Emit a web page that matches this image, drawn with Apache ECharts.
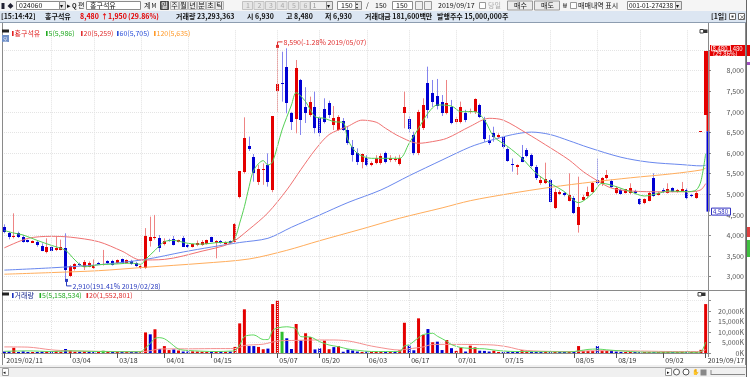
<!DOCTYPE html>
<html>
<head>
<meta charset="utf-8">
<script src="https://cdn.jsdelivr.net/npm/echarts@6/dist/echarts.min.js"></script>
<style>
  html, body { margin: 0; padding: 0; background: #fff; }
  #chart { width: 750px; height: 377px; }
</style>
</head>
<body>
<div id="chart"></div>
<script>
// 일봉 150개 (2019/02/11 ~ 2019/09/17)
const dates = ('2019/02/11 2019/02/12 2019/02/13 2019/02/14 2019/02/15 2019/02/18 2019/02/19 2019/02/20 2019/02/21 2019/02/22 ' +
  '2019/02/25 2019/02/26 2019/02/27 2019/02/28 2019/03/04 2019/03/05 2019/03/06 2019/03/07 2019/03/08 2019/03/11 ' +
  '2019/03/12 2019/03/13 2019/03/14 2019/03/15 2019/03/18 2019/03/19 2019/03/20 2019/03/21 2019/03/22 2019/03/25 ' +
  '2019/03/26 2019/03/27 2019/03/28 2019/03/29 2019/04/01 2019/04/02 2019/04/03 2019/04/04 2019/04/05 2019/04/08 ' +
  '2019/04/09 2019/04/10 2019/04/11 2019/04/12 2019/04/15 2019/04/16 2019/04/17 2019/04/18 2019/04/19 2019/04/22 ' +
  '2019/04/23 2019/04/24 2019/04/25 2019/04/26 2019/04/29 2019/04/30 2019/05/02 2019/05/03 2019/05/07 2019/05/08 ' +
  '2019/05/09 2019/05/10 2019/05/13 2019/05/14 2019/05/15 2019/05/16 2019/05/17 2019/05/20 2019/05/21 2019/05/22 ' +
  '2019/05/23 2019/05/24 2019/05/27 2019/05/28 2019/05/29 2019/05/30 2019/05/31 2019/06/03 2019/06/04 2019/06/05 ' +
  '2019/06/07 2019/06/10 2019/06/11 2019/06/12 2019/06/13 2019/06/14 2019/06/17 2019/06/18 2019/06/19 2019/06/20 ' +
  '2019/06/21 2019/06/24 2019/06/25 2019/06/26 2019/06/27 2019/06/28 2019/07/01 2019/07/02 2019/07/03 2019/07/04 ' +
  '2019/07/05 2019/07/08 2019/07/09 2019/07/10 2019/07/11 2019/07/12 2019/07/15 2019/07/16 2019/07/17 2019/07/18 ' +
  '2019/07/19 2019/07/22 2019/07/23 2019/07/24 2019/07/25 2019/07/26 2019/07/29 2019/07/30 2019/07/31 2019/08/01 ' +
  '2019/08/02 2019/08/05 2019/08/06 2019/08/07 2019/08/08 2019/08/09 2019/08/12 2019/08/13 2019/08/14 2019/08/16 ' +
  '2019/08/19 2019/08/20 2019/08/21 2019/08/22 2019/08/23 2019/08/26 2019/08/27 2019/08/28 2019/08/29 2019/08/30 ' +
  '2019/09/02 2019/09/03 2019/09/04 2019/09/05 2019/09/06 2019/09/09 2019/09/10 2019/09/11 2019/09/16 2019/09/17').split(' ');

const open = [
  4214, 4053, 3970, 4069, 3972, 3890, 3826, 3850, 3745, 3607,
  3729, 3640, 3660, 3700, 3018, 3180, 3320, 3227, 3245, 3203,
  3340, 3285, 3380, 3390, 3325, 3420, 3340, 3390, 3340, 3210,
  3210, 3875, 3930, 3930, 3785, 3890, 3906, 3850, 3931, 3770,
  3729, 3760, 3770, 3790, 3956, 3826, 3875, 3785, 3860, 3850,
  4942, 5550, 6173, 5914, 5307, 5590, 5712, 5105, 7508, 7690,
  8098, 6982, 6820, 7775, 7127, 6925, 7127, 6844, 7062, 7208,
  6682, 6561, 6788, 6561, 6157, 5994, 5793, 5873, 5711, 5768,
  5768, 5994, 5840, 5830, 5738, 6982, 6820, 6440, 5994, 6602,
  7694, 7467, 7386, 7249, 6982, 7127, 6763, 6763, 6966, 7005,
  7005, 7168, 6804, 6318, 6480, 6397, 6399, 6100, 5740, 5660,
  5900, 6076, 5954, 5671, 5283, 5283, 5347, 4660, 5008, 5040,
  4846, 4903, 4255, 4862, 4959, 5064, 5347, 5250, 5388, 5331,
  5040, 5105, 5040, 5024, 5089, 4878, 4780, 4846, 5388, 4990,
  5105, 5040, 5150, 5064, 5080, 5105, 4990, 4903, 6530, 6930
];
const high = [
  4271, 4093, 4538, 4093, 4012, 3900, 3880, 3890, 3810, 3931,
  3745, 3972, 3900, 4053, 3280, 3330, 3340, 3405, 3370, 3420,
  3360, 3650, 3400, 3410, 3420, 3440, 3420, 3410, 3360, 3280,
  4180, 4457, 4500, 4012, 3931, 3920, 3990, 3900, 3990, 3790,
  3800, 3880, 3890, 3900, 3970, 3890, 3890, 3860, 3880, 4300,
  5560, 6868, 6400, 5978, 5712, 5750, 5994, 6901, 8590, 8461,
  8543, 7000, 8260, 7800, 7600, 7370, 7491, 6900, 7330, 7273,
  7143, 6920, 6850, 6640, 6318, 6116, 5990, 5950, 5800, 5950,
  5994, 6035, 5950, 5920, 5960, 7491, 6900, 6520, 7050, 7330,
  8098, 7775, 7800, 7410, 7775, 7290, 6870, 7250, 7050, 7080,
  7330, 7200, 6880, 6440, 6640, 6480, 6420, 6140, 5870, 5730,
  6197, 6120, 5990, 5710, 5440, 5768, 5380, 5140, 5100, 5060,
  5509, 4960, 5428, 4990, 5186, 5300, 5873, 5420, 5590, 5360,
  5200, 5140, 5130, 5267, 5110, 4900, 4900, 5060, 5509, 5060,
  5150, 5267, 5170, 5130, 5300, 5140, 5010, 5080, 6530, 8480
];
const low = [
  4053, 3907, 3930, 3940, 3826, 3830, 3820, 3729, 3620, 3567,
  3620, 3620, 3640, 2910, 2990, 3150, 3260, 3163, 3230, 3190,
  3290, 3270, 3300, 3270, 3310, 3320, 3330, 3290, 3240, 3190,
  3190, 3730, 3900, 3600, 3760, 3850, 3760, 3830, 3720, 3700,
  3710, 3740, 3750, 3780, 3840, 3446, 3800, 3770, 3800, 3830,
  4900, 5500, 6050, 5307, 5226, 5230, 5186, 5050, 7005, 7249,
  6966, 6561, 6480, 6440, 6730, 6880, 6480, 6400, 6720, 6850,
  6561, 6540, 6540, 6200, 5793, 5711, 5630, 5680, 5680, 5730,
  5720, 5750, 5780, 5790, 5700, 6602, 6500, 5950, 5950, 6560,
  6844, 7120, 7060, 6900, 6940, 6700, 6720, 6720, 6750, 6960,
  6950, 6850, 6270, 6200, 6277, 6350, 6100, 5790, 5550, 5470,
  5780, 5900, 5650, 5347, 5230, 5250, 4800, 4640, 4980, 4950,
  4830, 4520, 4070, 4840, 4900, 5040, 5230, 5200, 5360, 5150,
  5000, 4990, 5020, 5000, 5000, 4740, 4760, 4830, 4940, 4970,
  5030, 5020, 5050, 5040, 5060, 4880, 4930, 4890, 6530, 6930
];
const close = [
  4093, 3956, 4000, 3972, 3850, 3842, 3874, 3769, 3632, 3729,
  3632, 3700, 3729, 3163, 3260, 3310, 3280, 3365, 3330, 3285,
  3308, 3308, 3325, 3285, 3405, 3340, 3405, 3308, 3260, 3270,
  4000, 3956, 3970, 3689, 3866, 3870, 3770, 3890, 3729, 3710,
  3790, 3810, 3850, 3890, 3850, 3875, 3810, 3850, 3820, 4279,
  5560, 6359, 6092, 5509, 5606, 5610, 5307, 6901, 7670, 7670,
  7208, 6763, 8058, 6804, 6982, 7249, 6602, 6480, 6763, 6925,
  6844, 6870, 6561, 6238, 5954, 5793, 5978, 5711, 5768, 5873,
  5930, 5793, 5870, 5860, 5890, 7111, 6577, 5994, 7005, 7168,
  7046, 7249, 7143, 6965, 7208, 6739, 6820, 7127, 6804, 7030,
  7305, 6885, 6340, 6238, 6383, 6430, 6150, 5820, 5720, 5700,
  5793, 5930, 5687, 5388, 5347, 5364, 4822, 5064, 5050, 4983,
  4990, 4555, 4684, 4943, 5064, 5283, 5267, 5388, 5469, 5186,
  5150, 5008, 5120, 5145, 5024, 4765, 4880, 5024, 4960, 5040,
  5045, 5120, 5064, 5105, 5120, 4920, 4950, 5020, 6530, 8480
];
// 거래량 (천주)
const volume = [
  700, 700, 2500, 400, 800, 400, 400, 400, 600, 800,
  700, 1000, 600, 1900, 1200, 600, 600, 800, 500, 400,
  500, 1100, 400, 400, 400, 400, 500, 400, 400, 500,
  9800, 8900, 11300, 1900, 3300, 1400, 1700, 1200, 700, 700,
  800, 700, 600, 500, 600, 600, 700, 500, 700, 2900,
  14100, 20800, 3300, 3300, 2900, 1800, 2100, 23300, 24900, 10100,
  7000, 1900, 13800, 6000, 9400, 7600, 1700, 2200, 5900, 1800,
  2800, 3300, 600, 1600, 1200, 700, 500, 700, 500, 600,
  600, 500, 500, 500, 1300, 14400, 3500, 1300, 16500, 8600,
  11400, 5100, 5400, 1400, 6200, 2300, 1000, 2600, 700, 3500,
  2700, 1100, 1000, 700, 1100, 500, 500, 600, 400, 500,
  1400, 700, 600, 500, 500, 900, 400, 500, 400, 400,
  400, 400, 3300, 1000, 1000, 1000, 3300, 1100, 1000, 1100,
  700, 500, 400, 400, 400, 400, 300, 300, 400, 300,
  300, 700, 300, 300, 300, 300, 300, 300, 1500, 23293
];

// 이동평균 (읽은 값, [봉번호, 값])
const ma5 = [[0,4120],[2,4060],[4,4012],[7,3880],[10,3760],[13,3640],[15,3405],[17,3240],[20,3290],[24,3310],
  [27,3330],[29,3300],[30,3420],[32,3640],[34,3850],[36,3880],[39,3810],[42,3790],[45,3826],[48,3840],
  [49,3930],[50,4300],[51,4700],[52,5185],[53,5590],[55,5817],[56,5711],[57,5790],[59,6561],[61,7168],
  [62,7467],[64,7249],[66,6885],[68,6844],[70,6763],[72,6739],[73,6318],[75,5994],[78,5873],[81,5873],
  [84,5873],[86,6238],[88,6602],[90,6966],[92,7168],[95,7143],[97,7006],[100,7006],[102,6803],[104,6399],
  [107,6156],[110,5873],[113,5509],[116,5267],[119,5064],[122,4797],[125,5024],[127,5267],[130,5186],[133,5064],
  [136,4959],[139,5024],[141,5080],[145,5064],[147,5105],[148,5320],[149,5986]];
const ma20 = [[0,3700],[5,3930],[10,3980],[14,3960],[20,3850],[25,3620],[29,3405],[34,3420],[42,3620],[48,3810],
  [52,4150],[56,4550],[60,5105],[63,5600],[66,6075],[69,6450],[73,6650],[76,6800],[79,6750],[81,6602],
  [84,6400],[88,6238],[91,6280],[94,6359],[99,6650],[103,6844],[106,6800],[111,6480],[115,6200],[120,5832],
  [123,5550],[126,5330],[129,5150],[133,5080],[140,5060],[146,5064],[148,5110],[149,5259]];
const ma60 = [[0,3160],[10,3215],[20,3290],[30,3420],[38,3600],[44,3720],[50,3830],[56,3932],[61,4200],[67,4498],
  [73,4800],[80,5105],[86,5450],[93,5832],[99,6150],[103,6300],[108,6450],[112,6510],[116,6450],[120,6300],
  [124,6140],[131,5900],[137,5780],[144,5720],[148,5690],[149,5705]];
const ma120 = [[0,3060],[10,3100],[20,3146],[30,3229],[42,3325],[52,3430],[60,3640],[67,3874],[76,4160],[84,4420],
  [93,4670],[99,4845],[107,5010],[116,5170],[125,5300],[133,5400],[142,5500],[148,5590],[149,5635]];
const volMa5 = [[0,800],[5,1000],[10,700],[14,1000],[20,700],[29,600],[30,2500],[31,4500],[32,7000],[33,7300],
  [34,6800],[35,5300],[37,1900],[39,1200],[45,700],[48,900],[49,1200],[50,3800],[51,7800],[53,8600],
  [55,6400],[56,6400],[57,10700],[58,11900],[60,12500],[61,12200],[62,11500],[63,7800],[65,7600],[67,5400],
  [69,3800],[71,3000],[73,1900],[75,1300],[78,700],[84,700],[85,3400],[86,3900],[88,7300],[89,8800],
  [91,9400],[92,8000],[94,5600],[95,4000],[97,2600],[100,2100],[102,2000],[104,1400],[107,800],[110,700],
  [115,600],[120,500],[122,1000],[124,1700],[126,1900],[128,1500],[131,1000],[135,450],[140,350],[145,350],
  [147,300],[148,550],[149,5159]];
const volMa20 = [[0,2900],[5,2800],[10,1500],[14,1000],[20,800],[29,600],[31,1100],[33,1900],[40,2000],[45,2100],
  [49,2100],[50,2700],[51,3600],[55,4200],[58,5700],[62,6000],[66,6200],[70,6200],[72,6000],[74,5400],
  [77,3800],[79,2900],[84,1400],[86,2000],[89,2900],[91,4100],[96,4100],[101,4000],[104,3800],[107,2900],
  [110,1400],[115,800],[121,700],[124,1000],[130,1100],[136,900],[142,700],[147,700],[148,750],[149,1553]];

const xLabelIdx = [0, 14, 24, 34, 44, 58, 67, 77, 86, 96, 106, 121, 130, 140, 149];
const xGridIdx = [10, 19, 29, 39, 49, 58, 67, 77, 86, 96, 106, 116, 126, 135, 145];
const lastPrice = 8480, prevClose = 6530, lowerLimit = 4580;

const FONT = '"Noto Sans CJK KR", "Noto Sans", sans-serif';
const RED = '#e40000', BLUE = '#0000d2', GREEN = '#2fbf2f';
const fmt = echarts.format.addCommas;
const last = a => a[a.length - 1][1];

// 최고/최저 표시
const hiIdx = high.indexOf(Math.max(...high));
const loIdx = low.indexOf(Math.min(...low));
const pct = v => ((lastPrice - v) / v * 100).toFixed(2);
const markIdx = [hiIdx, loIdx];
const markVal = [high[hiIdx], low[loIdx]];
const markText = markVal.map((v, k) => fmt(v) + '(' + pct(v) + '% ' + dates[markIdx[k]] + ')');

const candleData = dates.map((d, i) => [i, open[i], close[i], low[i], high[i]]);
const labelSet = new Set(xLabelIdx);
const volColor = i => {
  if (i === 0) return close[0] >= open[0] ? RED : BLUE;
  return close[i] > close[i - 1] ? RED : close[i] < close[i - 1] ? BLUE : GREEN;
};

// ---- 화면 틀 (툴바, 정보줄, 범례) ----
const G = [];
function rect(x, y, w, h, fill, stroke) {
  G.push({ type: 'rect', z: 100, silent: true, shape: { x, y, width: w, height: h },
    style: { fill: fill || 'none', stroke: stroke || 'none', lineWidth: 1 } });
}
function line(x1, y1, x2, y2, color) {
  G.push({ type: 'line', z: 100, silent: true, shape: { x1, y1, x2, y2 }, style: { stroke: color, lineWidth: 1 } });
}
function text(x, y, s, opt) {
  G.push({ type: 'text', z: 101, silent: true, x, y,
    style: Object.assign({ text: s, fill: '#111', font: '7px ' + FONT,
      verticalAlign: 'middle', textVerticalAlign: 'middle' }, opt || {}) });
}

// 1행 툴바
rect(0, 0, 746, 11, '#f5f5f5');
text(1.5, 5.5, '▌◆', { font: '6px ' + FONT, fill: '#223' });
rect(16.5, 1.5, 43, 8, '#fff', '#8c8c8c'); text(19, 5.5, '024060');
rect(59.5, 1.5, 6, 8, '#e6e6e6', '#8c8c8c'); text(60.3, 5.5, '▾', { font: '6px ' + FONT });
text(67, 5.5, '▸'); text(72, 5.5, 'Q', { font: 'bold 6px ' + FONT }); text(78, 5.5, '편');
rect(86.5, 1.5, 54, 8, '#fff', '#8c8c8c'); text(90, 5.5, '홍구석유');
text(144, 5.5, '계'); text(151.5, 5.5, 'M', { font: '6px ' + FONT });
rect(160.5, 1.5, 8, 8, '#6b6b6b', '#444'); text(161.3, 5.5, '일', { fill: '#fff' });
['주', '월', '년', '분', '초', '틱'].forEach((s, k) => {
  const x = [170.5, 179.5, 188.5, 197.5, 206.5, 215.5][k];
  rect(x, 1.5, 8, 8, '#ededed', '#b5b5b5'); text(x + 0.8, 5.5, s);
});
['1', '2', '3', '4', '5', '6'].forEach((s, k) => {
  const x = 242.5 + k * 11.5;
  rect(x, 1.5, 10, 8, '#e6e6e6', '#c2c2c2'); text(x + 3.5, 5.5, s, { fill: '#aaa' });
});
rect(310.5, 1.5, 16, 8, '#eee', '#aaa'); text(312.5, 5.5, '1', { fill: '#999' });
rect(326.5, 1.5, 6, 8, '#e6e6e6', '#8c8c8c'); text(327.3, 5.5, '▾', { font: '6px ' + FONT });
rect(337.5, 1.5, 18, 8, '#fff', '#8c8c8c'); text(341, 5.5, '150');
rect(355.5, 1.5, 6, 8, '#e6e6e6', '#8c8c8c'); text(356.3, 3.8, '▴', { font: '4px ' + FONT }); text(356.3, 7.3, '▾', { font: '4px ' + FONT });
text(366, 5.5, '/'); text(375, 5.5, '150');
rect(392.5, 1.5, 20, 8, '#fff', '#8c8c8c'); text(396, 5.5, '150');
rect(415.5, 1.5, 7, 8, '#eee', '#999'); rect(424.5, 1.5, 7, 8, '#eee', '#999');
text(438, 5.5, '2019/09/17');
rect(479.5, 2.5, 6, 6, '#fff', '#999'); text(488, 5.5, '당일', { fill: '#aaa' });
rect(507.5, 1, 25, 9, '#ececec', '#9a9a9a'); text(514, 5.5, '매수');
rect(534.5, 1, 25, 9, '#ececec', '#9a9a9a'); text(541, 5.5, '매도');
text(563, 5.5, '₩');
rect(570.5, 2.5, 6, 6, '#fff', '#999'); text(578, 5.5, '매매내역 표시');
rect(627.5, 1.5, 48, 8, '#fff', '#8c8c8c'); text(629, 5.5, '001-01-274238', { font: '6.5px ' + FONT });
rect(675.5, 1.5, 6, 8, '#e6e6e6', '#8c8c8c'); text(676.3, 5.5, '▾', { font: '6px ' + FONT });

// 2행 시세 정보
rect(0, 11, 746, 11.5, '#dce6f2');
const B = 'bold 7px ' + FONT;
text(1, 16.7, '[15:14:42]', { font: B });
text(45, 16.7, '홍구석유', { font: B });
text(80, 16.7, fmt(lastPrice), { font: B, fill: RED });
text(101, 16.7, '↑1,950', { font: B, fill: RED });
text(128, 16.7, '(29.86%)', { font: B, fill: RED });
text(176, 16.7, '거래량 23,293,363', { font: B });
text(247, 16.7, '시 6,930', { font: B });
text(286, 16.7, '고 8,480', { font: B });
text(325, 16.7, '저 6,930', { font: B });
text(365, 16.7, '거래대금 181,600백만', { font: B });
text(437, 16.7, '발행주수 15,000,000주', { font: B });
text(711, 16.7, '[1일]', { font: B });
rect(729.5, 13.5, 6, 6, '#fff', '#666'); rect(731.5, 15.5, 2, 2, '#333');
rect(738.5, 13.5, 6, 6, '#fff', '#666'); text(739.3, 16.7, '×', { font: '6px ' + FONT });
line(0, 22.5, 746, 22.5, '#8d9db0');

// 차트 테두리
line(2.5, 23, 2.5, 365, '#8a8a8a');
line(745.5, 23, 745.5, 365, '#8a8a8a');
line(2.5, 290.5, 745.5, 290.5, '#8a8a8a');
line(708.5, 23, 708.5, 357, '#8a8a8a');
line(746.5, 0, 746.5, 377, '#666');
rect(747, 62, 3, 3, '#a050c0'); rect(747, 227, 3, 10, '#e04040'); rect(747, 240, 3, 17, '#40c040');

// 범례
rect(2, 29.5, 7, 3, '#222');
rect(2, 35, 7, 7, '#7090c8'); text(3, 38.6, '오', { font: '5px ' + FONT, fill: '#fff' });
rect(700, 29.5, 3.5, 3.5, '#fff', '#444'); rect(704, 29.5, 3.5, 3.5, '#333');
[
  { x: 12, c: '#e02020', t: '홍구석유' },
  { x: 46, c: '#22aa22', t: '5(' + fmt(last(ma5)) + ')' },
  { x: 81, c: '#e03030', t: '20(' + fmt(last(ma20)) + ')' },
  { x: 117, c: '#2a4fd8', t: '60(' + fmt(last(ma60)) + ')' },
  { x: 154, c: '#ff9a2a', t: '120(' + fmt(last(ma120)) + ')' }
].forEach(it => { rect(it.x, 31, 1.6, 5, it.c); text(it.x + 2.5, 33.6, it.t, { fill: it.c }); });

rect(2, 292.5, 7, 3, '#222');
rect(698, 292.5, 3.5, 3.5, '#fff', '#444'); rect(702, 292.5, 3.5, 3.5, '#333');
[
  { x: 12, c: '#1a2fc0', t: '거래량', tc: '#1a2a90' },
  { x: 39.5, c: '#22aa22', t: '5(5,158,534)' },
  { x: 86.5, c: '#e03030', t: '20(1,552,801)' }
].forEach(it => { rect(it.x, 293, 1.6, 5, it.c); text(it.x + 2.5, 295.6, it.t, { fill: it.tc || it.c }); });

// 하단 스크롤바
rect(0, 365, 746, 12, '#f0f0f0');
line(0, 367.5, 746, 367.5, '#b0b0b0');
rect(2.5, 368.5, 6, 7, '#fff', '#999'); text(3.2, 372, '◂', { font: '5px ' + FONT });
rect(665.5, 368.5, 6, 7, '#fff', '#999'); text(666.5, 372, '▸', { font: '5px ' + FONT });
G.push({ type: 'circle', z: 100, silent: true, shape: { cx: 676.5, cy: 372, r: 3 }, style: { fill: '#fff', stroke: '#555' } });
G.push({ type: 'circle', z: 100, silent: true, shape: { cx: 686, cy: 372, r: 3 }, style: { fill: '#fff', stroke: '#555' } });
text(691.5, 372, '✋', { font: '6px ' + FONT, fill: '#555' });
rect(700.5, 369.5, 6, 6, '#888');
line(711, 374.5, 745, 374.5, '#888');
line(711, 370, 711, 375, '#888');

// ---- 차트 ----
const chart = echarts.init(document.getElementById('chart'));

const gridLines = xGridIdx.map(i => ({ xAxis: dates[i] }));
const maLine = (data, color, x, y) => ({
  type: 'line', xAxisIndex: x, yAxisIndex: y, data, smooth: 0.3, showSymbol: false, silent: true, z: 4,
  lineStyle: { width: 1, color }, itemStyle: { color }
});

chart.setOption({
  animation: false,
  backgroundColor: '#fff',
  textStyle: { fontFamily: FONT },
  graphic: { elements: G },
  grid: [
    { left: 2, top: 29.5, width: 706, height: 267.8, outerBoundsMode: 'none' },
    { left: 2, top: 290, width: 706, height: 63, outerBoundsMode: 'none' }
  ],
  xAxis: [
    {
      type: 'category', gridIndex: 0, data: dates, boundaryGap: true,
      axisLine: { show: false }, axisTick: { show: false }, axisLabel: { show: false }, splitLine: { show: false }
    },
    {
      type: 'category', gridIndex: 1, data: dates, boundaryGap: true,
      axisLine: { lineStyle: { color: '#8c8c8c' } },
      axisTick: { show: true, alignWithLabel: true, length: 5, interval: i => labelSet.has(i), lineStyle: { color: '#555' } },
      axisLabel: {
        interval: i => labelSet.has(i), align: 'left', margin: 4, padding: [0, 0, 0, 2],
        fontSize: 7, color: '#333', fontFamily: FONT,
        formatter: (v, i) => (i === 0 || i === dates.length - 1) ? v : v.slice(5)
      },
      splitLine: { show: false }
    }
  ],
  yAxis: [
    {
      type: 'value', gridIndex: 0, position: 'right', min: 2500, max: 9000, interval: 500,
      axisLine: { show: false },
      axisTick: { show: true, length: 3, lineStyle: { color: '#8c8c8c' } },
      axisLabel: { showMinLabel: false, showMaxLabel: false, align: 'right', margin: 36, fontSize: 7, color: '#555', formatter: v => fmt(v) },
      splitLine: { show: true, showMinLine: false, showMaxLine: false, lineStyle: { color: '#e4e4e4', type: 'dotted' } }
    },
    {
      type: 'value', gridIndex: 1, position: 'right', min: 0, max: 30000, interval: 5000,
      axisLine: { show: false },
      axisTick: { show: true, length: 3, lineStyle: { color: '#8c8c8c' } },
      axisLabel: { showMaxLabel: false, align: 'right', margin: 36, fontSize: 7, color: '#555', formatter: v => v > 20000 ? '' : fmt(v) + 'K' },
      splitLine: { show: true, showMinLine: false, showMaxLine: false, lineStyle: { color: '#e8e8e8', type: 'dotted' } }
    }
  ],
  series: [
    // 세로 격자
    { type: 'line', xAxisIndex: 0, yAxisIndex: 0, data: [], z: 1, silent: true,
      markLine: { silent: true, symbol: ['none', 'none'], label: { show: false }, lineStyle: { color: '#e2e2e2', type: 'dotted', width: 1 }, data: gridLines } },
    { type: 'line', xAxisIndex: 1, yAxisIndex: 1, data: [], z: 1, silent: true,
      markLine: { silent: true, symbol: ['none', 'none'], label: { show: false }, lineStyle: { color: '#e2e2e2', type: 'dotted', width: 1 }, data: gridLines } },
    // 캔들
    {
      type: 'custom', xAxisIndex: 0, yAxisIndex: 0, z: 3, silent: true,
      data: candleData, encode: { x: 0, y: [1, 2, 3, 4] },
      renderItem: function (params, api) {
        const i = api.value(0);
        const o = api.value(1), c = api.value(2);
        const po = api.coord([i, o]), pc = api.coord([i, c]);
        const pl = api.coord([i, api.value(3)]), ph = api.coord([i, api.value(4)]);
        const up = c >= o;
        const bx = Math.round(po[0] - 1.5);
        const top = Math.round(Math.min(po[1], pc[1]));
        const bot = Math.round(Math.max(po[1], pc[1]));
        return {
          type: 'group', children: [
            { type: 'line', shape: { x1: bx + 1.5, y1: ph[1], x2: bx + 1.5, y2: pl[1] }, style: { stroke: up ? '#ee8484' : '#8484ee', lineWidth: 1 } },
            { type: 'rect', shape: { x: bx, y: top, width: 3, height: Math.max(1, bot - top) }, style: { fill: up ? RED : BLUE } }
          ]
        };
      }
    },
    maLine(ma120, '#ffad5c', 0, 0),
    maLine(ma60, '#6a88ee', 0, 0),
    maLine(ma20, '#f07272', 0, 0),
    maLine(ma5, '#55d055', 0, 0),
    // 최고/최저 표시
    {
      type: 'custom', xAxisIndex: 0, yAxisIndex: 0, z: 6, silent: true, clip: false,
      data: markIdx.map((i, k) => [i, markVal[k]]), encode: { x: 0, y: 1 },
      renderItem: function (params, api) {
        const k = params.dataIndex;
        const p = api.coord([api.value(0), api.value(1)]);
        const col = k === 0 ? '#e03030' : '#2a3cc0';
        const x = Math.round(p[0]) + 0.5;
        const ly = k === 0 ? p[1] - 4.5 : p[1] + 5.5;
        return {
          type: 'group', children: [
            { type: 'rect', shape: { x: x - 1.5, y: p[1] - 1.5, width: 3, height: 3 }, style: { fill: col } },
            { type: 'polyline', shape: { points: [[x, p[1]], [x, ly], [x + 5, ly]] }, style: { stroke: col, fill: 'none', lineWidth: 1 } },
            { type: 'text', style: { text: markText[k], x: x + 6, y: ly, fill: col, font: '7px ' + FONT, verticalAlign: 'middle', textVerticalAlign: 'middle' } }
          ]
        };
      }
    },
    // 가격축 표시 (상한/전일/하한)
    {
      type: 'custom', xAxisIndex: 0, yAxisIndex: 0, z: 10, silent: true, clip: false,
      data: [[dates.length - 1, lastPrice, prevClose, lowerLimit]], encode: { x: 0, y: 1 },
      renderItem: function (params, api) {
        const cs = params.coordSys;
        const ax = cs.x + cs.width;
        const i = api.value(0);
        const yU = api.coord([i, api.value(1)])[1];
        const yP = api.coord([i, api.value(2)])[1];
        const yD = api.coord([i, api.value(3)])[1];
        const f = '6px ' + FONT;
        return {
          type: 'group', children: [
            { type: 'rect', shape: { x: ax - 1.5, y: yU, width: 3, height: yP - yU }, style: { fill: RED } },
            { type: 'rect', shape: { x: ax - 1.5, y: yP, width: 3, height: yD - yP }, style: { fill: BLUE } },
            { type: 'rect', shape: { x: ax + 2, y: yU - 6, width: 40, height: 11 }, style: { fill: RED } },
            { type: 'rect', shape: { x: ax + 3.5, y: yU - 5.5, width: 19, height: 5.5 }, style: { fill: 'none', stroke: '#fff', lineWidth: 0.8 } },
            { type: 'text', style: { text: fmt(api.value(1)), x: ax + 4.5, y: yU - 2.7, fill: '#fff', font: f, verticalAlign: 'middle', textVerticalAlign: 'middle' } },
            { type: 'text', style: { text: '.480', x: ax + 23, y: yU - 2.7, fill: '#fff', font: f, verticalAlign: 'middle', textVerticalAlign: 'middle' } },
            { type: 'text', style: { text: '(29.86%)', x: ax + 5, y: yU + 2.4, fill: '#fff', font: f, verticalAlign: 'middle', textVerticalAlign: 'middle' } },
            { type: 'rect', shape: { x: ax + 3.5, y: yD - 3.5, width: 19, height: 7 }, style: { fill: '#fff', stroke: '#3030c0', lineWidth: 1 } },
            { type: 'text', style: { text: fmt(api.value(3)), x: ax + 5, y: yD, fill: '#3030c0', font: f, verticalAlign: 'middle', textVerticalAlign: 'middle' } }
          ]
        };
      }
    },
    // 거래량
    {
      type: 'bar', xAxisIndex: 1, yAxisIndex: 1, barWidth: 3, barMinHeight: 1, silent: true, z: 3,
      data: volume.map((v, i) => ({ value: v, itemStyle: { color: volColor(i) } }))
    },
    maLine(volMa20, '#f49090', 1, 1),
    maLine(volMa5, '#5fd85f', 1, 1)
  ]
});
window.addEventListener('resize', () => { chart.resize(); });
</script>
</body>
</html>
